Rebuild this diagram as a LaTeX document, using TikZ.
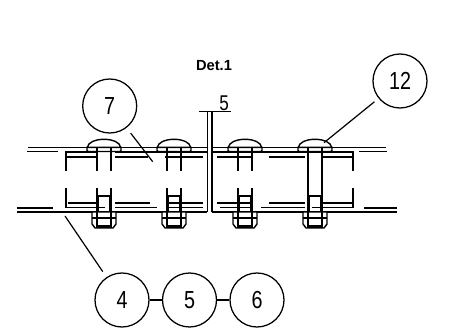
\documentclass[tikz,border=0pt]{standalone}
\usepackage{fontspec}
\setmainfont{Liberation Sans}
\newfontfamily\digitfont[FakeStretch=0.8]{Liberation Sans}
\tikzset{
  x=0.75pt,y=-0.75pt,
  drawing/.style={line width=1.05pt,line cap=butt},
  callout/.style={draw,circle,line width=0.95pt,minimum size=40.5pt,inner sep=0pt,font=\digitfont\fontsize{18.5}{19}\selectfont},
  leader/.style={line width=0.9pt},
  bolt/.pic={
    \draw[drawing] (-7,151)--(-7,171) (7,151)--(7,171);
    \draw[drawing] (-7,188)--(-7,212) (7,188)--(7,212);
    \draw[drawing] (-5.5,212)--(-5.5,196)--(5.5,196)--(5.5,212);
    \draw[drawing,fill=white] (-16.5,147.3) arc[start angle=180,end angle=360,x radius=16.5,y radius=8];
    \draw[drawing,fill=white] (-17,147.3)--(-17,150.3)--(-16,151.5)--(16,151.5)--(17,150.3)--(17,147.3)--cycle;
    \draw[drawing] (-7,147.5)--(-7,151) (7,147.5)--(7,151);
    \draw[drawing,fill=white] (-12,212)--(-12,224)--(-9,228)--(9,228)--(12,224)--(12,212)--cycle;
    \draw[drawing] (-7,212)--(-7,228) (7,212)--(7,228) (-12,218)--(12,218);
    \draw[line width=1.8pt] (-7,226.3)--(7,226.3);
  }
}
\begin{document}
\begin{tikzpicture}
\useasboundingbox (0,0) rectangle (450,335);
% plates
\draw[drawing] (28,147.3)--(207.3,147.3) (212,147.3)--(386,147.3);
\draw[drawing] (27,151.5)--(58,151.5) (359,151.5)--(387,151.5);
\draw[drawing] (66,171)--(66,152)--(97,152) (115,152)--(207.3,152) (212,152)--(353,152)--(353,171);
\draw[drawing] (66,188)--(66,207.5)--(105,207.5) (353,188)--(353,207.5)--(312,207.5);
\draw[drawing] (66,157)--(97,157) (115,157)--(148,157) (165,157)--(203,157) (217,157)--(253,157) (269,157)--(305,157) (322,157)--(353,157);
\draw[drawing] (68,203)--(97,203) (115,203)--(150,203) (167,203)--(203,203) (217,203)--(252,203) (269,203)--(305,203) (322,203)--(353,203);
\draw[drawing] (115,207.5)--(157,207.5) (167,207.5)--(203,207.5) (220,207.5)--(250,207.5) (261,207.5)--(305,207.5);
\draw[drawing] (17,207.8)--(53,207.8) (364,207.8)--(397,207.8);
\draw[drawing] (17,211.8)--(207.3,211.8) (212,211.8)--(397,211.8);
% centre section
\draw[drawing] (207.3,211.8)--(207.3,111) (212,211.8)--(212,111);
\coordinate (sa) at (199,111.5);
\coordinate (sb) at (231,111.5);
\draw[drawing] (sa)--(sb);
\node[font=\digitfont\fontsize{16}{16}\selectfont,inner sep=0pt] (lab5) at (224,103) {5};
\node[font=\bfseries\fontsize{11}{11}\selectfont,inner sep=0pt] (det) at (214,66) {Det.1};
% bolts
\foreach \bx in {104,174,245,315} \pic at (\bx,0) {bolt};
\draw[drawing] (308,171)--(308,188) (322,171)--(322,188);
% callouts
\node[callout] (c7) at (109.7,106) {7};
\node[callout] (c12) at (400,81) {12};
\node[callout] (c4) at (122,300) {4};
\node[callout] (c5) at (189.5,300) {5};
\node[callout] (c6) at (257,300) {6};
\coordinate (t7) at (152.7,161.7);
\coordinate (t12) at (324,142.7);
\coordinate (t4) at (65,216);
\draw[leader,shorten <=5pt] (c7)--(t7);
\draw[leader,shorten <=4pt] (c12)--(t12);
\draw[leader,shorten <=5pt] (c4)--(t4);
\draw[drawing] (c4)--(c5);
\draw[drawing] (c5)--(c6);
\end{tikzpicture}
\end{document}
